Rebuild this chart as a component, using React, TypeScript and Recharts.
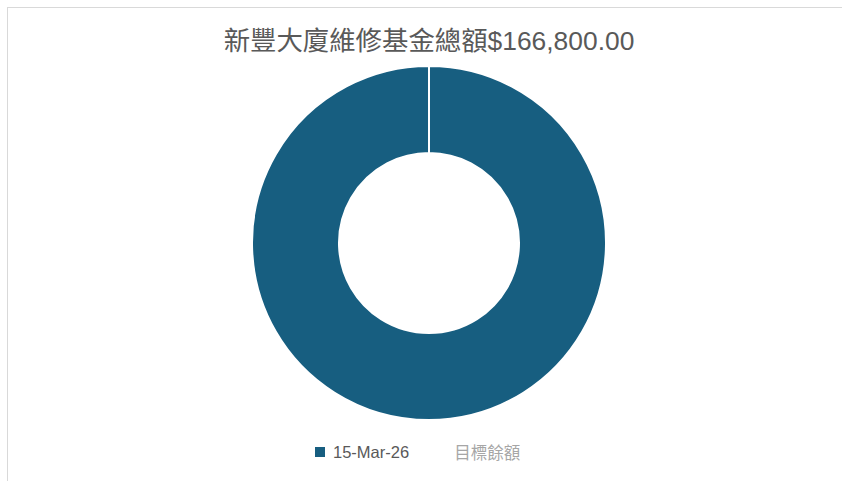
import { PieChart, Pie, Cell, Legend } from 'recharts';

const labels = ['15-Mar-26', '目標餘額'];
const amounts = [166800, 0];
const fills = ['#175e80', '#ffffff'];
const legendText = ['#595959', '#a6a6a6'];
const title = '新豐大廈維修基金總額$166,800.00';

const data = labels.map((name, i) => ({ name, value: amounts[i] }));

const font = '"Liberation Sans", "Noto Sans CJK TC", sans-serif';

function LegendBox() {
  return (
    <div style={{ display: 'flex', alignItems: 'center', gap: 27, paddingLeft: 307, fontFamily: font }}>
      {labels.map((name, i) => (
        <div key={name} style={{ display: 'flex', alignItems: 'center' }}>
          <span style={{ width: 10, height: 10, background: fills[i], display: 'inline-block', marginRight: 8 }} />
          <span style={{ fontSize: 16.5, color: legendText[i] }}>{name}</span>
        </div>
      ))}
    </div>
  );
}

export default function App() {
  return (
    <div
      style={{
        position: 'absolute',
        left: 7,
        top: 7,
        width: 850,
        height: 490,
        border: '1px solid #d9d9d9',
        background: '#fff',
      }}
    >
      <div
        style={{
          position: 'absolute',
          top: 11,
          left: 0,
          width: 842,
          textAlign: 'center',
          fontFamily: font,
          fontSize: 26.4,
          color: '#595959',
        }}
      >
        {title}
      </div>
      <PieChart width={834} height={472} margin={{ top: 0, right: 0, bottom: 0, left: 0 }}>
        <Pie
          data={data}
          dataKey="value"
          nameKey="name"
          cx={421}
          cy={235}
          innerRadius={90}
          outerRadius={177}
          startAngle={90}
          endAngle={-270}
          stroke="#ffffff"
          strokeWidth={2}
          isAnimationActive={false}
        >
          {data.map((d, i) => (
            <Cell key={d.name} fill={fills[i]} />
          ))}
        </Pie>
        <Legend content={<LegendBox />} wrapperStyle={{ top: 432, left: 0, width: 834 }} />
      </PieChart>
    </div>
  );
}
